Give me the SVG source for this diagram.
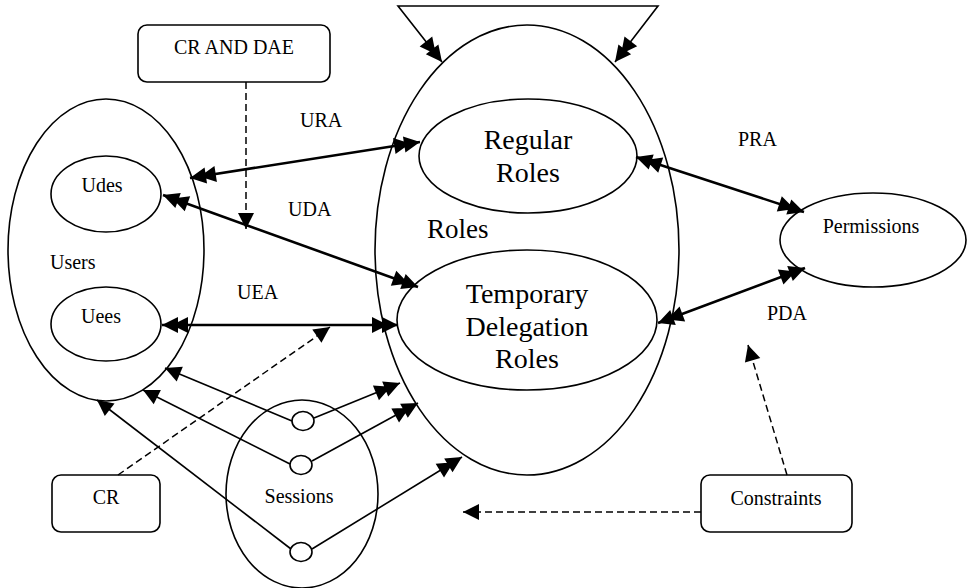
<svg xmlns="http://www.w3.org/2000/svg" width="967" height="588" viewBox="0 0 967 588">
<defs>
<style>
.sh{fill:#fff;stroke:#000;stroke-width:1.6}
.t{font-family:"Liberation Serif","Times New Roman",serif;fill:#000}
.s20{font-size:20px}
.big{font-size:28px}
.thick{fill:none;stroke:#000;stroke-width:2.6}
.thin{fill:none;stroke:#000;stroke-width:1.6}
.dash{fill:none;stroke:#000;stroke-width:1.5;stroke-dasharray:7 4}
</style>
<marker id="dbl" viewBox="-30 -10 32 20" refX="0" refY="0" markerWidth="32" markerHeight="20" markerUnits="userSpaceOnUse" orient="auto-start-reverse">
<path d="M0,0 L-16,-8 L-16,8 Z M-10,0 L-26,-8 L-26,8 Z" fill="#000"/>
</marker>
<marker id="sgl" viewBox="-18 -10 20 20" refX="0" refY="0" markerWidth="20" markerHeight="20" markerUnits="userSpaceOnUse" orient="auto">
<path d="M0,0 L-16,-8 L-16,8 Z" fill="#000"/>
</marker>
</defs>
<rect width="967" height="588" fill="#fff"/>

<g id="roles">
<ellipse class="sh" cx="527" cy="250" rx="152" ry="225"/>
<text class="t" x="427" y="238" font-size="27">Roles</text>
</g>
<g id="regular-roles">
<ellipse class="sh" cx="528" cy="156" rx="109" ry="57"/>
<text class="t big" x="528" y="149" text-anchor="middle">Regular</text>
<text class="t big" x="528" y="182" text-anchor="middle">Roles</text>
</g>
<g id="temporary-roles">
<ellipse class="sh" cx="527" cy="320" rx="130" ry="70"/>
<text class="t big" x="527" y="303" text-anchor="middle">Temporary</text>
<text class="t big" x="527" y="336" text-anchor="middle">Delegation</text>
<text class="t big" x="527" y="368" text-anchor="middle">Roles</text>
</g>
<g id="users">
<ellipse class="sh" cx="106" cy="250" rx="98" ry="151"/>
<text class="t s20" x="50" y="269">Users</text>
</g>
<g id="udes">
<ellipse class="sh" cx="106" cy="194" rx="55" ry="38"/>
<text class="t s20" x="102" y="192" text-anchor="middle">Udes</text>
</g>
<g id="uees">
<ellipse class="sh" cx="106" cy="324" rx="55" ry="37"/>
<text class="t s20" x="101" y="323" text-anchor="middle">Uees</text>
</g>
<g id="permissions">
<ellipse class="sh" cx="873" cy="240" rx="93" ry="47"/>
<text class="t s20" x="871" y="233" text-anchor="middle">Permissions</text>
</g>
<g id="sessions">
<ellipse class="sh" cx="302" cy="494" rx="76" ry="94"/>
<text class="t s20" x="299" y="503" text-anchor="middle">Sessions</text>
<ellipse class="sh" cx="303" cy="421" rx="11" ry="9.5"/>
<ellipse class="sh" cx="301" cy="465" rx="11" ry="9.5"/>
<ellipse class="sh" cx="301" cy="552" rx="11" ry="9.5"/>
</g>
<g id="cr-and-dae">
<rect class="sh" x="138" y="25" width="192" height="57" rx="9"/>
<text class="t s20" x="234" y="54" text-anchor="middle">CR AND DAE</text>
</g>
<g id="cr">
<rect class="sh" x="52" y="475" width="108" height="57" rx="9"/>
<text class="t s20" x="106" y="504" text-anchor="middle">CR</text>
</g>
<g id="constraints">
<rect class="sh" x="701" y="475" width="151" height="57" rx="9"/>
<text class="t s20" x="776" y="505" text-anchor="middle">Constraints</text>
</g>

<g id="connectors">
<path class="thin" d="M442,62 L398,6 L658,6 L615,62" marker-start="url(#dbl)" marker-end="url(#dbl)"/>
<line class="thick" x1="190" y1="178" x2="420" y2="142" marker-start="url(#dbl)" marker-end="url(#dbl)"/>
<line class="thick" x1="163" y1="195" x2="418" y2="287" marker-start="url(#dbl)" marker-end="url(#dbl)"/>
<line class="thick" x1="162" y1="325" x2="398" y2="325" marker-start="url(#dbl)" marker-end="url(#dbl)"/>
<line class="thick" x1="636" y1="157" x2="804" y2="212" marker-start="url(#dbl)" marker-end="url(#dbl)"/>
<line class="thick" x1="658" y1="323" x2="805" y2="268" marker-start="url(#dbl)" marker-end="url(#dbl)"/>
<line class="thin" x1="292" y1="421" x2="165" y2="368" marker-end="url(#sgl)"/>
<line class="thin" x1="314" y1="418" x2="400" y2="383" marker-end="url(#dbl)"/>
<line class="thin" x1="290" y1="464" x2="143" y2="390" marker-end="url(#sgl)"/>
<line class="thin" x1="312" y1="461" x2="418" y2="403" marker-end="url(#dbl)"/>
<line class="thin" x1="291" y1="549" x2="97" y2="400" marker-end="url(#sgl)"/>
<line class="thin" x1="312" y1="549" x2="462" y2="457" marker-end="url(#dbl)"/>
<line class="dash" x1="246" y1="82" x2="246" y2="229" marker-end="url(#sgl)"/>
<line class="dash" x1="118" y1="475" x2="330" y2="327" marker-end="url(#sgl)"/>
<line class="dash" x1="701" y1="512" x2="463" y2="512" marker-end="url(#sgl)"/>
<line class="dash" x1="787" y1="475" x2="748" y2="345" marker-end="url(#sgl)"/>
</g>

<g id="labels">
<text class="t s20" x="300" y="127">URA</text>
<text class="t s20" x="288" y="216">UDA</text>
<text class="t s20" x="237" y="299">UEA</text>
<text class="t s20" x="738" y="146">PRA</text>
<text class="t s20" x="767" y="320">PDA</text>
</g>
</svg>
